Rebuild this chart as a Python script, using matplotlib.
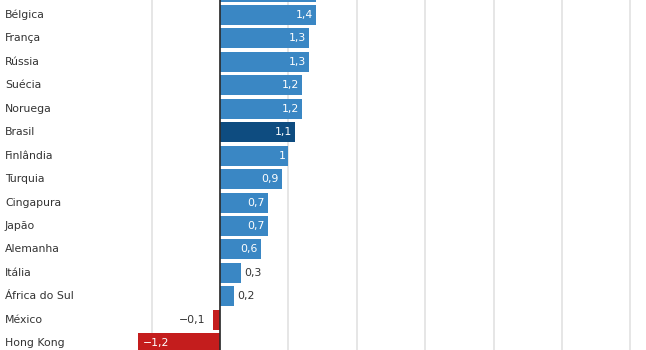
import matplotlib.pyplot as plt
from matplotlib.transforms import blended_transform_factory

# data (top row is cut off in the reference)
paises = ["", "Bélgica", "França", "Rússia", "Suécia", "Noruega", "Brasil",
          "Finlândia", "Turquia", "Cingapura", "Japão", "Alemanha", "Itália",
          "África do Sul", "México", "Hong Kong"]
valores = [1.4, 1.4, 1.3, 1.3, 1.2, 1.2, 1.1, 1.0, 0.9, 0.7, 0.7, 0.6, 0.3,
           0.2, -0.1, -1.2]
destaque = "Brasil"

AZUL = "#3a87c4"
AZUL_ESCURO = "#0e4c80"
VERMELHO = "#c41d1d"
TEXTO = "#333333"
FS = 7.8


def rotulo(v):
    s = f"{v:g}".replace(".", ",")
    return s.replace("-", "\u2212")


fig = plt.figure(figsize=(6.46, 3.5), dpi=100)
ax = fig.add_axes([0, 0, 1, 1])

pos = list(range(len(paises)))
cores = []
for p, v in zip(paises, valores):
    if v < 0:
        cores.append(VERMELHO)
    elif p == destaque:
        cores.append(AZUL_ESCURO)
    else:
        cores.append(AZUL)

ax.barh(pos, valores, height=0.85, color=cores, zorder=2)

# pixel 220 = zero, ~68.4 px per unit
ax.set_xlim(-220 / 68.4, (646 - 220) / 68.4)
ax.set_ylim(15.29, 0.36)

ax.set_xticks(range(-1, 7))
ax.grid(axis="x", color="#e6e6e6", linewidth=1.4, zorder=0)
ax.axvline(0, color="#2a2a2a", linewidth=1.2, zorder=3)
ax.tick_params(length=0, labelbottom=False, labelleft=False)
for s in ax.spines.values():
    s.set_visible(False)

trans = blended_transform_factory(ax.transAxes, ax.transData)
for y, p in zip(pos, paises):
    ax.text(5 / 646, y, p, transform=trans, ha="left", va="center",
            fontsize=FS, color=TEXTO)

px = 1 / 68.4
for y, p, v in zip(pos, paises, valores):
    if not p:
        continue  # row cut off at the top edge
    t = rotulo(v)
    if v >= 0.5:
        ax.text(v - 3 * px, y, t, ha="right", va="center", fontsize=FS,
                color="white", zorder=4)
    elif v >= 0:
        ax.text(v + 4 * px, y, t, ha="left", va="center", fontsize=FS,
                color=TEXTO, zorder=4)
    elif v > -0.5:
        ax.text(v - 8 * px, y, t, ha="right", va="center", fontsize=FS,
                color=TEXTO, zorder=4)
    else:
        ax.text(v + 5 * px, y, t, ha="left", va="center", fontsize=FS,
                color="white", zorder=4)

fig.savefig("out.png", dpi=100)
